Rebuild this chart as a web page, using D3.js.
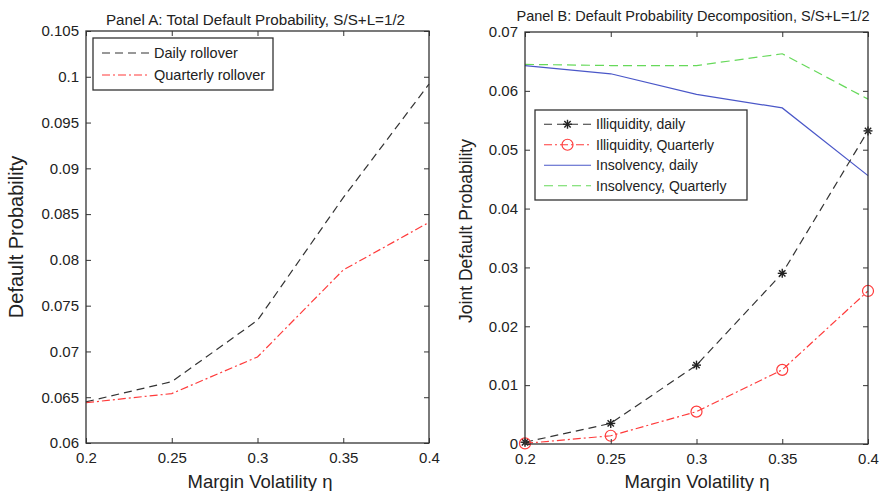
<!DOCTYPE html>
<html>
<head>
<meta charset="utf-8">
<script src="https://cdn.jsdelivr.net/npm/d3@7"></script>
<style>
  html, body { margin: 0; padding: 0; background: #fff; }
  svg { display: block; font-family: "Liberation Sans", Arial, sans-serif; }
</style>
</head>
<body>
<svg id="chart" width="879" height="491"></svg>
<script>
// Margin volatility grid shared by both panels
const eta = [0.2, 0.25, 0.3, 0.35, 0.4];
const etaTicks = [0.2, 0.25, 0.3, 0.35, 0.4];
const etaTickLabels = ["0.2", "0.25", "0.3", "0.35", "0.4"];

// Panel A: total default probability
const totalDaily = [0.0645, 0.0667, 0.0734, 0.0868, 0.0992];
const totalQuarterly = [0.0644, 0.0654, 0.0694, 0.0789, 0.0841];
const aTicks = [0.06, 0.065, 0.07, 0.075, 0.08, 0.085, 0.09, 0.095, 0.1, 0.105];
const aTickLabels = ["0.06", "0.065", "0.07", "0.075", "0.08", "0.085", "0.09", "0.095", "0.1", "0.105"];

// Panel B: decomposition into illiquidity and insolvency
const illiqDaily = [0.0003, 0.0035, 0.0134, 0.029, 0.0532];
const illiqQuarterly = [0.0001, 0.0014, 0.0055, 0.0126, 0.026];
const insolvDaily = [0.0643, 0.0629, 0.0594, 0.0571, 0.0456];
const insolvQuarterly = [0.0645, 0.0643, 0.0643, 0.0663, 0.0586];
const bTicks = [0, 0.01, 0.02, 0.03, 0.04, 0.05, 0.06, 0.07];
const bTickLabels = ["0", "0.01", "0.02", "0.03", "0.04", "0.05", "0.06", "0.07"];

const svg = d3.select("#chart");
const axisColor = "#333";
const tickFont = 15;

const styles = {
  blackDash: { stroke: "#333", dash: "8,5", width: 1.2 },
  redDashDot: { stroke: "#ff3b3b", dash: "8,3,2,3", width: 1.2 },
  blueSolid: { stroke: "#4a57c8", dash: null, width: 1.2 },
  greenDash: { stroke: "#66d95a", dash: "9,5", width: 1.2 }
};

function drawFrame(g, x, y, w, h, xTicks, xLabels, yTicks, yLabels) {
  const labelOf = (ticks, labels) => d => labels[ticks.indexOf(d)];
  const setStyle = sel => {
    sel.select(".domain").remove();
    sel.selectAll(".tick line").attr("stroke", axisColor).attr("stroke-width", 1);
    sel.selectAll(".tick text").attr("fill", "#222").style("font-size", tickFont + "px")
      .style("font-family", "'Liberation Sans', Arial, sans-serif");
  };
  g.append("g").attr("transform", `translate(0,${h})`)
    .call(d3.axisBottom(x).tickValues(xTicks).tickFormat(labelOf(xTicks, xLabels)).tickSize(-5).tickPadding(9))
    .call(setStyle);
  g.append("g")
    .call(d3.axisTop(x).tickValues(xTicks).tickFormat("").tickSize(-5))
    .call(setStyle);
  g.append("g")
    .call(d3.axisLeft(y).tickValues(yTicks).tickFormat(labelOf(yTicks, yLabels)).tickSize(-5).tickPadding(7))
    .call(setStyle);
  g.append("g").attr("transform", `translate(${w},0)`)
    .call(d3.axisRight(y).tickValues(yTicks).tickFormat("").tickSize(-5))
    .call(setStyle);
  g.append("rect").attr("width", w).attr("height", h)
    .attr("fill", "none").attr("stroke", axisColor).attr("stroke-width", 1.3);
}

function drawLine(g, x, y, values, st) {
  const line = d3.line().x((d, i) => x(eta[i])).y(d => y(d));
  g.append("path").datum(values).attr("d", line)
    .attr("fill", "none").attr("stroke", st.stroke).attr("stroke-width", st.width)
    .attr("stroke-dasharray", st.dash);
}

function star(g, cx, cy, color) {
  const r = 4.5;
  const p = g.append("g").attr("stroke", color).attr("stroke-width", 1.4);
  [0, 45, 90, 135].forEach(a => {
    const rad = a * Math.PI / 180;
    p.append("line")
      .attr("x1", cx - r * Math.cos(rad)).attr("y1", cy - r * Math.sin(rad))
      .attr("x2", cx + r * Math.cos(rad)).attr("y2", cy + r * Math.sin(rad));
  });
}

function circle(g, cx, cy, color) {
  g.append("circle").attr("cx", cx).attr("cy", cy).attr("r", 5.5)
    .attr("fill", "none").attr("stroke", color).attr("stroke-width", 1.2);
}

function legend(g, x0, y0, w, rowH, items, fontSize) {
  const h = rowH * items.length + 8;
  g.append("rect").attr("x", x0).attr("y", y0).attr("width", w).attr("height", h)
    .attr("fill", "#fff").attr("stroke", axisColor).attr("stroke-width", 1.3);
  items.forEach((it, i) => {
    const cy = y0 + 4 + rowH * (i + 0.5);
    g.append("line").attr("x1", x0 + 9).attr("x2", x0 + 56).attr("y1", cy).attr("y2", cy)
      .attr("stroke", it.style.stroke).attr("stroke-width", it.style.width)
      .attr("stroke-dasharray", it.style.dash);
    if (it.marker) it.marker(g, x0 + 32.5, cy, it.style.stroke);
    g.append("text").attr("x", x0 + 61).attr("y", cy).attr("dy", "0.35em")
      .style("font-size", fontSize + "px").attr("fill", "#222").text(it.label);
  });
}

// ---------- Panel A ----------
{
  const L = 86, T = 31, W = 343, H = 412;
  const g = svg.append("g").attr("transform", `translate(${L},${T})`);
  const x = d3.scaleLinear().domain([0.2, 0.4]).range([0, W]);
  const y = d3.scaleLinear().domain([0.06, 0.105]).range([H, 0]);
  drawLine(g, x, y, totalDaily, styles.blackDash);
  drawLine(g, x, y, totalQuarterly, styles.redDashDot);
  drawFrame(g, x, y, W, H, etaTicks, etaTickLabels, aTicks, aTickLabels);
  legend(g, 7, 7, 180, 22, [
    { label: "Daily rollover", style: styles.blackDash },
    { label: "Quarterly rollover", style: styles.redDashDot }
  ], 14.5);
  svg.append("text").attr("x", 255.5).attr("y", 25).attr("text-anchor", "middle")
    .style("font-size", "15.2px").attr("fill", "#222")
    .text("Panel A: Total Default Probability, S/S+L=1/2");
  svg.append("text").attr("transform", `translate(23,237) rotate(-90)`)
    .attr("text-anchor", "middle").style("font-size", "20px").attr("fill", "#222")
    .text("Default Probability");
  svg.append("text").attr("x", 260).attr("y", 488).attr("text-anchor", "middle")
    .style("font-size", "18.5px").attr("fill", "#222").text("Margin Volatility η");
}

// ---------- Panel B ----------
{
  const L = 525, T = 32, W = 343, H = 412;
  const g = svg.append("g").attr("transform", `translate(${L},${T})`);
  const x = d3.scaleLinear().domain([0.2, 0.4]).range([0, W]);
  const y = d3.scaleLinear().domain([0, 0.07]).range([H, 0]);
  drawLine(g, x, y, insolvQuarterly, styles.greenDash);
  drawLine(g, x, y, insolvDaily, styles.blueSolid);
  drawLine(g, x, y, illiqDaily, styles.blackDash);
  drawLine(g, x, y, illiqQuarterly, styles.redDashDot);
  illiqDaily.forEach((v, i) => star(g, x(eta[i]), y(v), "#222"));
  illiqQuarterly.forEach((v, i) => circle(g, x(eta[i]), y(v), styles.redDashDot.stroke));
  drawFrame(g, x, y, W, H, etaTicks, etaTickLabels, bTicks, bTickLabels);
  legend(g, 10, 78, 212, 20.5, [
    { label: "Illiquidity, daily", style: styles.blackDash, marker: (gg, cx, cy) => star(gg, cx, cy, "#222") },
    { label: "Illiquidity, Quarterly", style: styles.redDashDot, marker: (gg, cx, cy, c) => circle(gg, cx, cy, c) },
    { label: "Insolvency, daily", style: styles.blueSolid },
    { label: "Insolvency, Quarterly", style: styles.greenDash }
  ], 14);
  svg.append("text").attr("x", 693).attr("y", 21).attr("text-anchor", "middle")
    .style("font-size", "14.5px").attr("fill", "#222")
    .text("Panel B: Default Probability Decomposition, S/S+L=1/2");
  svg.append("text").attr("transform", `translate(472,231) rotate(-90)`)
    .attr("text-anchor", "middle").style("font-size", "17.5px").attr("fill", "#222")
    .text("Joint Default Probability");
  svg.append("text").attr("x", 697).attr("y", 488).attr("text-anchor", "middle")
    .style("font-size", "18.5px").attr("fill", "#222").text("Margin Volatility η");
}
</script>
</body>
</html>
